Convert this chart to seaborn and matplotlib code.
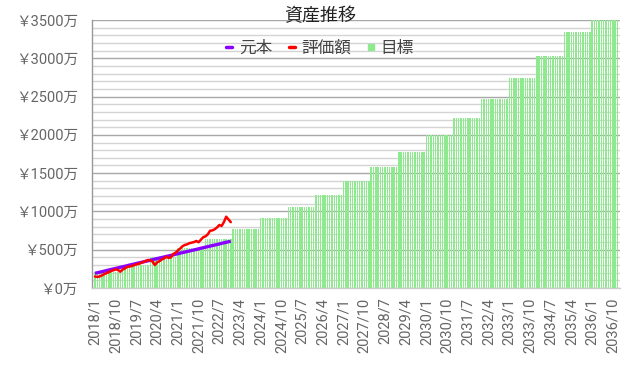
import numpy as np
import pandas as pd
import matplotlib
matplotlib.use("Agg")
import matplotlib.pyplot as plt
from matplotlib.lines import Line2D
import seaborn as sns

# ---- data (万円) ----
years = list(range(2018, 2037))
target_by_year = [210, 300, 410, 520, 636, 767, 910, 1058, 1215, 1397,
                  1584, 1776, 1998, 2224, 2470, 2739, 3034, 3339, 3650]

principal = [192, 199, 206, 213, 220, 228, 235, 242, 249, 256, 263, 270,
             277, 284, 291, 299, 306, 313, 320, 327, 334, 341, 348, 355,
             362, 370, 377, 384, 391, 398, 405, 412, 419, 426, 433, 441,
             448, 455, 462, 469, 476, 483, 490, 497, 504, 512, 519, 526,
             533, 540, 547, 554, 561, 568, 575, 583, 590, 597, 604, 611]

valuation = [150, 145, 150, 165, 180, 195, 205, 222, 232, 244, 235, 213,
             240, 255, 275, 280, 287, 298, 310, 315, 328, 340, 352, 366,
             360, 345, 300, 335, 350, 372, 385, 409, 392, 400, 445, 460,
             490, 515, 545, 562, 570, 585, 592, 600, 614, 598, 630, 662,
             675, 700, 748, 752, 767, 790, 823, 810, 860, 931, 895, 860]

tick_labels = ["2018/1", "2018/10", "2019/7", "2020/4", "2021/1", "2021/10",
               "2022/7", "2023/4", "2024/1", "2024/10", "2025/7", "2026/4",
               "2027/1", "2027/10", "2028/7", "2029/4", "2030/1", "2030/10",
               "2031/7", "2032/4", "2033/1", "2033/10", "2034/7", "2035/4",
               "2036/1", "2036/10"]

# monthly table built from the yearly target
target_monthly = np.repeat(target_by_year, 12)
n = len(target_monthly)
idx = np.arange(n)
df = pd.DataFrame({"i": idx, "target": target_monthly})

sns.set_style("white")
plt.rcParams['font.family'] = ['Roboto', 'Noto Sans CJK JP', 'DejaVu Sans']

fig = plt.figure(figsize=(6.4, 3.82), dpi=100)
ax = fig.add_axes([92/640, 1-288/382, (620-92)/640, (288-20)/382])

sns.barplot(data=df, x="i", y="target", color="#8fea8f", saturation=1,
            width=0.62, linewidth=0, ax=ax, zorder=2)

ax.plot(np.arange(len(principal)), principal, color="#8a00ff", lw=2.4,
        zorder=4, solid_capstyle="butt")
ax.plot(np.arange(len(valuation)), valuation, color="#ff0000", lw=1.8,
        zorder=5)

ax.set_xlim(-1.3, 228.1)
ax.set_ylim(0, 3500)

# grid
for v in range(0, 3501, 100):
    if v % 500 == 0:
        ax.axhline(v, color="#a8a8a8", lw=1.0, zorder=1)
    else:
        ax.axhline(v, color="#d4d4d4", lw=1.0, zorder=1)

ax.set_yticks(range(0, 3501, 500))
ax.set_yticks(range(0, 3501, 100), minor=True)
ax.set_yticklabels([f"￥{v}万" for v in range(0, 3501, 500)])
ax.tick_params(axis="y", which="major", length=6, color="#999999",
               labelsize=10.5, labelcolor="#666666", pad=4)
ax.tick_params(axis="y", which="minor", length=3, color="#999999")

ax.set_xticks(np.arange(0, len(tick_labels) * 9, 9))
ax.set_xticklabels(tick_labels, rotation=90, va="top", ha="center")
ax.tick_params(axis="x", length=0, labelsize=10.5, labelcolor="#666666", pad=7)

ax.set_xlabel("")
ax.set_ylabel("")
for s in ["top", "right"]:
    ax.spines[s].set_visible(False)
ax.spines["left"].set_color("#999999")
ax.spines["left"].set_linewidth(1)
ax.spines["bottom"].set_color("#cccccc")
ax.spines["bottom"].set_linewidth(1)

fig.text(0.5, 1-16/382, "資産推移", ha="center", va="center",
         fontsize=13, color="#222222")

handles = [Line2D([], [], color="#8a00ff", lw=2.5),
           Line2D([], [], color="#ff0000", lw=2.5),
           Line2D([], [], color="#8fea8f", marker="s", ls="", markersize=5)]
fig.legend(handles, ["元本", "評価額", "目標"], loc="center",
           bbox_to_anchor=(320/640, 1-48/382), ncol=3, frameon=False,
           handlelength=0.35, handletextpad=0.4, columnspacing=1.0,
           fontsize=12, labelcolor="#444444")

fig.savefig("out.png", dpi=100)
